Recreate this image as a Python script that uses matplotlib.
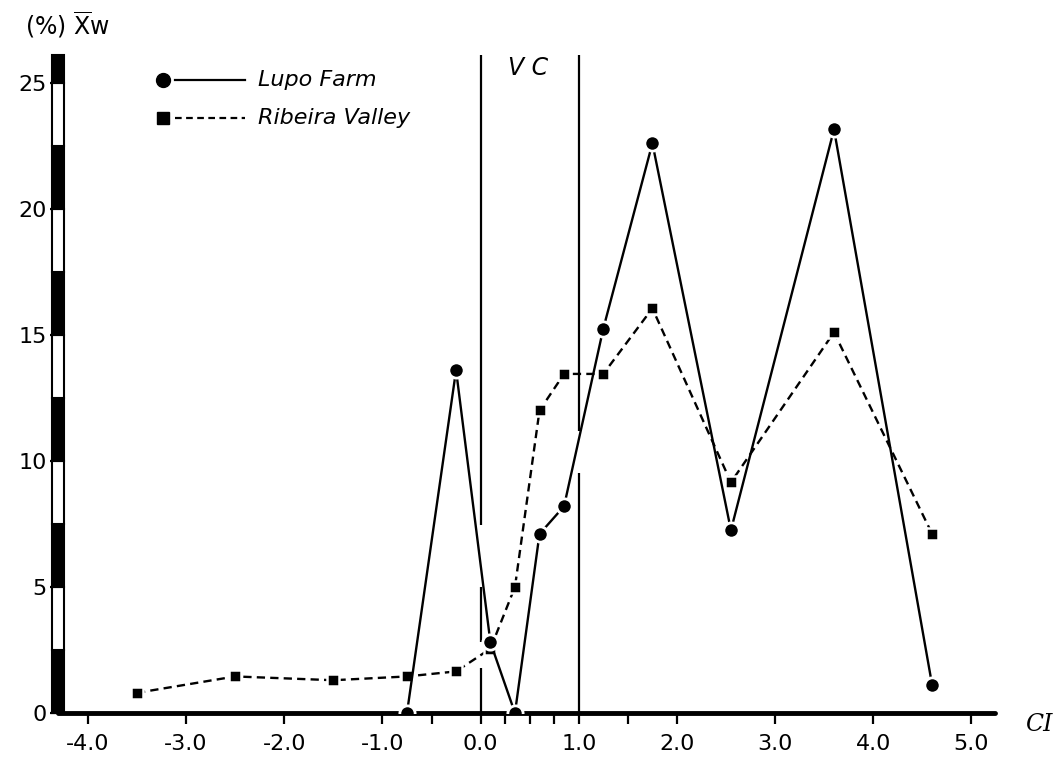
import matplotlib
matplotlib.use("Agg")
import matplotlib.pyplot as plt
from matplotlib.patches import Rectangle
import matplotlib.transforms as mtransforms

# data
lupo_x = [-0.75, -0.25, 0.1, 0.35, 0.6, 0.85, 1.25, 1.75, 2.55, 3.6, 4.6]
lupo_y = [0.0, 13.6, 2.8, 0.0, 7.1, 8.2, 15.25, 22.6, 7.25, 23.15, 1.1]

ribeira_x = [-3.5, -2.5, -1.5, -0.75, -0.25, 0.1, 0.35, 0.6, 0.85, 1.25, 1.75, 2.55, 3.6, 4.6]
ribeira_y = [0.8, 1.45, 1.3, 1.45, 1.65, 2.55, 5.0, 12.0, 13.45, 13.45, 16.05, 9.15, 15.1, 7.1]

x_major = [-4.0, -3.0, -2.0, -1.0, 0.0, 1.0, 2.0, 3.0, 4.0, 5.0]
x_minor = [-0.5, 0.25, 0.5, 0.75, 1.5]
y_ticks = [0, 5, 10, 15, 20, 25]
y_bands = [0, 2.5, 5, 7.5, 10, 12.5, 15, 17.5, 20, 22.5, 25, 26.1]

# VC boundary lines, broken where the curves cross
vc_x0 = [[0, 1.8], [2.8, 5.0], [7.45, 26.1]]
vc_x1 = [[0, 9.5], [11.2, 26.1]]

plt.rcParams["font.family"] = "DejaVu Sans"

fig = plt.figure(figsize=(10.62, 7.6), dpi=100)
ax = fig.add_axes([58 / 1062, 47 / 760, (995 - 58) / 1062, (713 - 55) / 760])

ax.set_xlim(-4.305, 5.24)
ax.set_ylim(0, 26.1)

for seg in vc_x0:
    ax.vlines(0.0, seg[0], seg[1], color="black", lw=1.6, zorder=1)
for seg in vc_x1:
    ax.vlines(1.0, seg[0], seg[1], color="black", lw=1.6, zorder=1)

ax.plot(ribeira_x, ribeira_y, color="black", lw=1.7, ls=(0, (3.5, 2.2)),
        marker="s", ms=9, mfc="black", mec="white", mew=1.8, zorder=3)
ax.plot(lupo_x, lupo_y, color="black", lw=1.7, ls="-",
        marker="o", ms=11, mfc="black", mec="white", mew=2.0, zorder=4)

# banded y axis bar
trans = mtransforms.blended_transform_factory(ax.transAxes, ax.transData)
for i in range(len(y_bands) - 1):
    fc = "black" if i % 2 == 0 else "white"
    r = Rectangle((-0.006, y_bands[i]), 0.012, y_bands[i + 1] - y_bands[i],
                  transform=trans, facecolor=fc, edgecolor="black", lw=1.5,
                  clip_on=False, zorder=5)
    ax.add_patch(r)

for s in ["top", "right", "left"]:
    ax.spines[s].set_visible(False)
ax.spines["bottom"].set_linewidth(3.5)
ax.spines["bottom"].set_capstyle("round")

ax.set_xticks(x_major)
ax.set_xticklabels([f"{v:.1f}" for v in x_major], fontsize=16)
ax.set_xticks(x_minor, minor=True)
ax.tick_params(axis="x", which="major", direction="out", length=8, width=1.6, pad=7)
ax.tick_params(axis="x", which="minor", direction="out", length=8, width=1.6)

ax.set_yticks(y_ticks)
ax.set_yticklabels([str(v) for v in y_ticks], fontsize=16)
ax.tick_params(axis="y", direction="out", length=6, width=1.6, pad=2)

# legend drawn by hand
ax.plot([0.112], [25.1], marker="o", ms=10, color="black", transform=trans, clip_on=False)
ax.plot([0.125, 0.2], [25.1, 25.1], color="black", lw=1.6, transform=trans, clip_on=False)
ax.text(0.213, 25.1, "Lupo Farm", transform=trans, fontsize=16, style="italic",
        va="center", ha="left")
ax.plot([0.112], [23.6], marker="s", ms=8, color="black", transform=trans, clip_on=False)
ax.plot([0.125, 0.2], [23.6, 23.6], color="black", lw=1.6, ls=(0, (3, 2)),
        transform=trans, clip_on=False)
ax.text(0.213, 23.6, "Ribeira Valley", transform=trans, fontsize=16, style="italic",
        va="center", ha="left")

ax.text(0.48, 25.6, "V C", fontsize=17, style="italic", ha="center", va="center")

fig.text(25 / 1062, 1 - 25 / 760, r"(%) $\mathregular{\overline{X}}$w", fontsize=17,
         ha="left", va="center")
ax.annotate("CI", xy=(1.0, 0), xycoords="axes fraction", xytext=(22, -8),
            textcoords="offset points", fontsize=17, style="italic",
            family="DejaVu Serif", ha="left", va="center")

fig.savefig("out.png", dpi=100)
